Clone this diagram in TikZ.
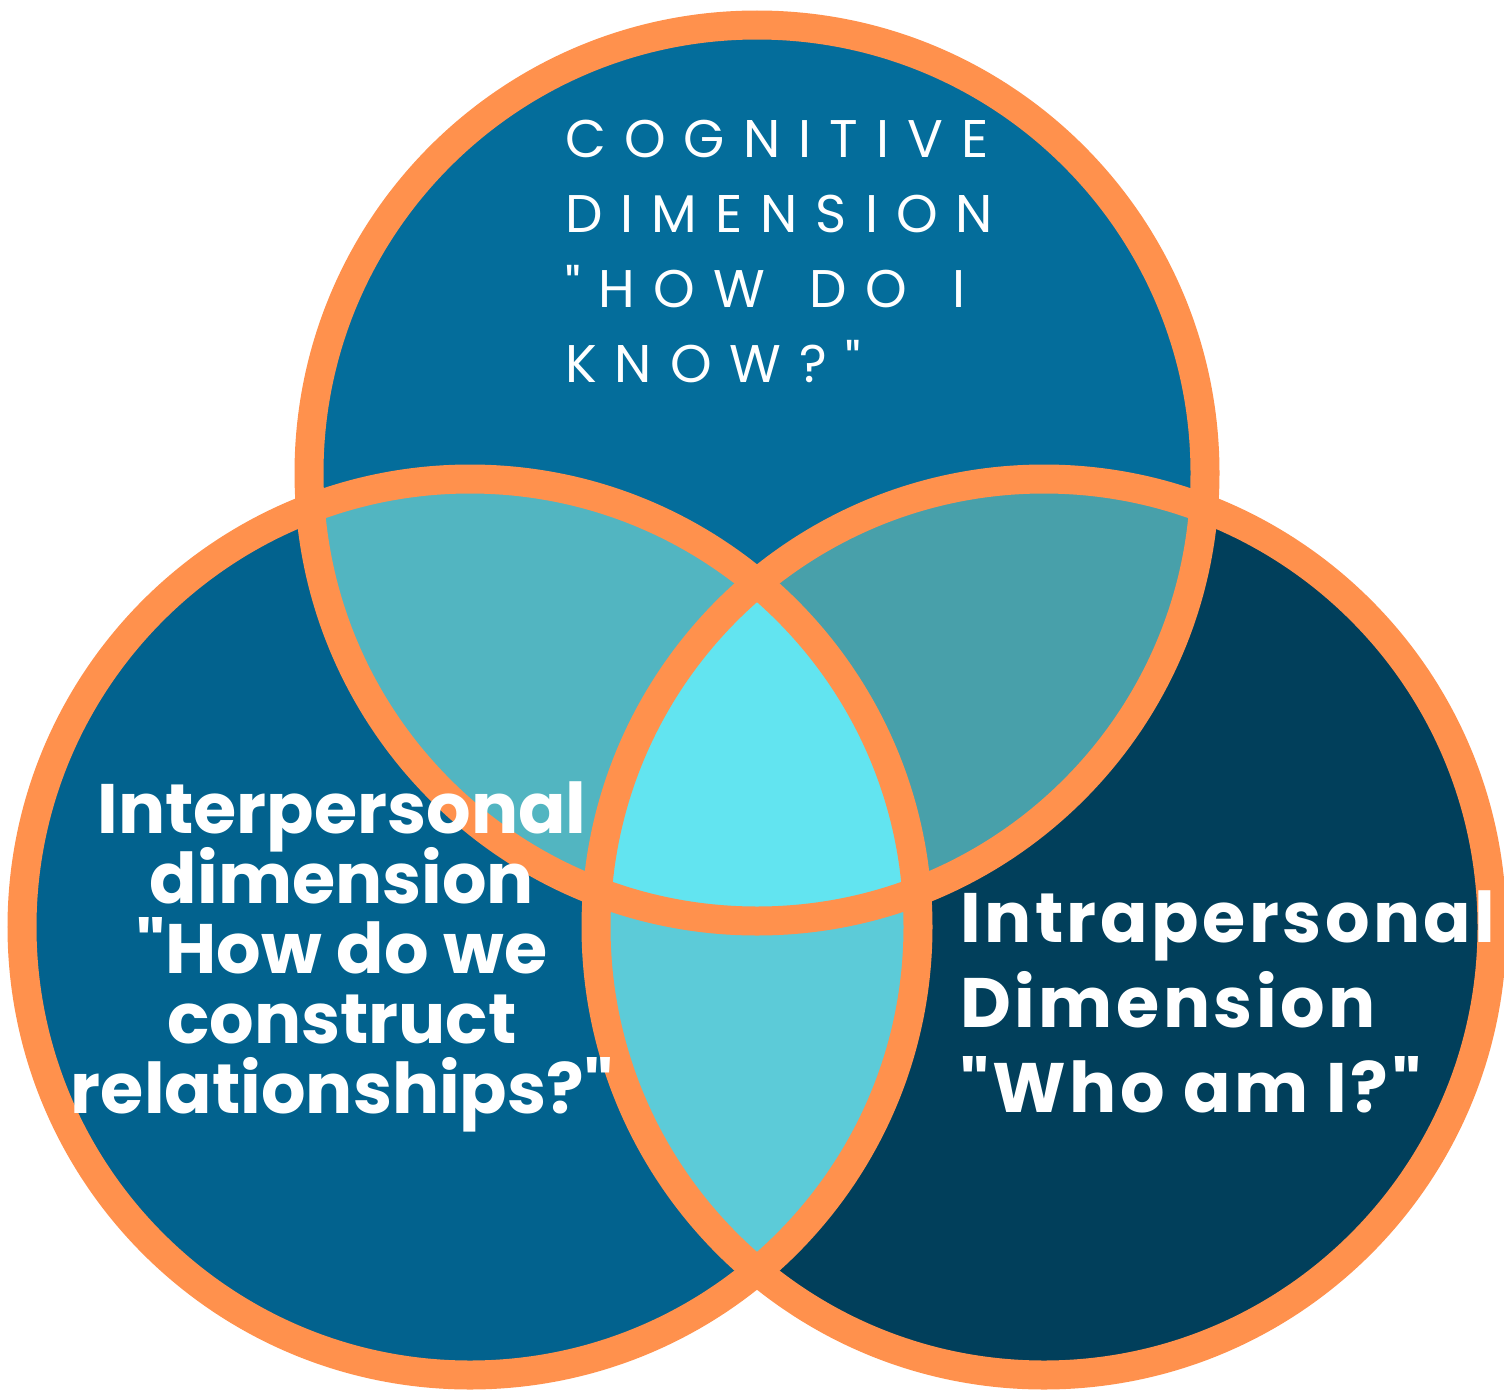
\documentclass[tikz,border=0pt]{standalone}
\usepackage{fontspec}
\setmainfont{Poppins}[Ligatures=TeXOff]
\newfontfamily\cogfont[LetterSpace=34,WordSpace=1.4,Ligatures=TeXOff]{Poppins}
\newfontfamily\intrafont[LetterSpace=5,Ligatures=TeXOff]{Poppins}
\usepackage{xcolor}
\definecolor{ringorange}{RGB}{255,145,77}
\definecolor{cogblue}{RGB}{4,109,155}
\definecolor{interblue}{RGB}{2,98,142}
\definecolor{intrablue}{RGB}{1,63,91}
\definecolor{cogintertint}{RGB}{82,181,193}
\definecolor{cogintratint}{RGB}{72,160,170}
\definecolor{interintratint}{RGB}{92,203,216}
\definecolor{coretint}{RGB}{98,228,240}

\tikzset{
  ring/.style={draw=ringorange, line width=29pt},
  cogline/.style={white, anchor=base west, inner sep=0pt, font=\fontsize{53}{53}\cogfont},
  interline/.style={white, anchor=base, inner sep=0pt, font=\fontsize{70}{70}\selectfont\bfseries},
  intraline/.style={white, anchor=base west, inner sep=0pt, font=\fontsize{70}{70}\intrafont\bfseries}
}

\begin{document}
\begin{tikzpicture}[x=1pt,y=-1pt]
    \useasboundingbox (0,0) rectangle (1504,1392);
    \coordinate (cog) at (757,473);
    \coordinate (inter) at (470,927);
    \coordinate (intra) at (1044,927);

    % Circle fills
    \fill[cogblue] (cog) circle (448pt);
    \fill[interblue] (inter) circle (448pt);
    \fill[intrablue] (intra) circle (448pt);

    % Overlaps
    \begin{scope}
        \clip (cog) circle (448pt);
        \fill[cogintertint] (inter) circle (448pt);
        \fill[cogintratint] (intra) circle (448pt);
    \end{scope}
    \begin{scope}
        \clip (inter) circle (448pt);
        \fill[interintratint] (intra) circle (448pt);
        \clip (intra) circle (448pt);
        \fill[coretint] (cog) circle (448pt);
    \end{scope}

    % Orange rings
    \draw[ring] (cog) circle (448pt);
    \draw[ring] (inter) circle (448pt);
    \draw[ring] (intra) circle (448pt);

    % Cognitive dimension
    \node[cogline] (cog1) at (565,157) {COGNITIVE};
    \node[cogline] (cog2) at (565,232) {DIMENSION};
    \node[cogline] (cog3) at (565,307) {"HOW DO I};
    \node[cogline] (cog4) at (565,382) {KNOW?"};

    % Interpersonal dimension
    \node[interline] (inter1) at (342,833) {Interpersonal};
    \node[interline] (inter2) at (342,903) {dimension};
    \node[interline] (inter3) at (342,973) {"How do we};
    \node[interline] (inter4) at (342,1043) {construct};
    \node[interline] (inter5) at (342,1113) {relationships?"};

    % Intrapersonal dimension
    \node[intraline] (intra1) at (960,942) {Intrapersonal};
    \node[intraline] (intra2) at (960,1027) {Dimension};
    \node[intraline] (intra3) at (960,1112) {"Who am I?"};
\end{tikzpicture}
\end{document}
